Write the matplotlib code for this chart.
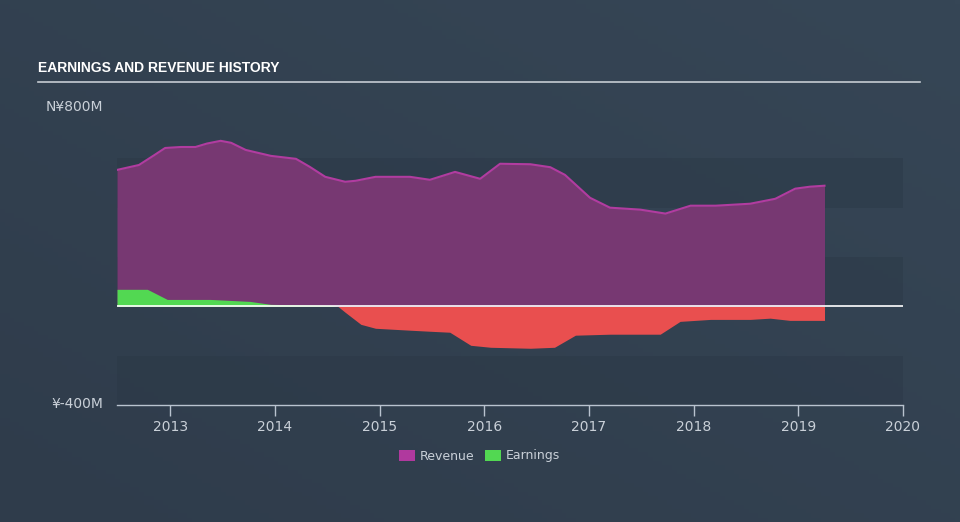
import numpy as np
import matplotlib
matplotlib.use("Agg")
from matplotlib import pyplot as plt
from matplotlib.patches import Rectangle

# revenue (millions)
rev_x = [2012.49, 2012.70, 2012.85, 2012.95, 2013.10, 2013.24, 2013.35, 2013.48, 2013.58,
         2013.72, 2013.96, 2014.20, 2014.33, 2014.48, 2014.67, 2014.77, 2014.96, 2015.29,
         2015.48, 2015.72, 2015.96, 2016.15, 2016.44, 2016.63, 2016.77, 2017.01, 2017.20,
         2017.49, 2017.73, 2017.97, 2018.21, 2018.54, 2018.78, 2018.97, 2019.11, 2019.25]
rev_y = [553, 573, 614, 642, 646, 646, 660, 671, 663,
         634, 610, 598, 566, 525, 505, 509, 525, 525,
         513, 545, 517, 578, 576, 564, 533, 440, 400,
         392, 376, 408, 408, 416, 436, 477, 485, 489]

# earnings (millions)
earn_x = [2012.49, 2012.78, 2012.97, 2013.38, 2013.76, 2013.96, 2014.53, 2014.60, 2014.67,
          2014.82, 2014.96, 2015.30, 2015.48, 2015.67, 2015.87, 2016.06, 2016.44, 2016.67,
          2016.87, 2017.20, 2017.68, 2017.87, 2018.16, 2018.54, 2018.73, 2018.92, 2019.25]
earn_y = [69, 69, 28, 28, 20, 8, 4, 0, -24,
          -73, -89, -97, -101, -105, -158, -166, -170, -166,
          -117, -113, -113, -61, -53, -53, -48, -57, -57]

years = [2013, 2014, 2015, 2016, 2017, 2018, 2019, 2020]

bg = '#33414f'
fig = plt.figure(figsize=(9.6, 5.22), dpi=100)
fig.patch.set_facecolor(bg)

# background gradient, subtle
bax = fig.add_axes([0, 0, 1, 1], zorder=-10)
gx = np.linspace(0, 1, 200)
gy = np.linspace(0, 1, 120)
GX, GY = np.meshgrid(gx, gy)
g = 0.5 * GX + 0.5 * GY
c0 = np.array([0x2f, 0x3c, 0x4b]) / 255
c1 = np.array([0x36, 0x46, 0x56]) / 255
img = c0[None, None, :] * (1 - g[..., None]) + c1[None, None, :] * g[..., None]
bax.imshow(img, aspect='auto', extent=[0, 1, 0, 1], origin='lower')
bax.axis('off')

ax = fig.add_axes([117/960, 1-405/522, (903-117)/960, (405-109)/522])
ax.set_facecolor('none')
ax.set_xlim(2012.49, 2020.0)
ax.set_ylim(-400, 800)

# alternating bands
for lo in [-400, 0, 400]:
    ax.add_patch(Rectangle((2012.49, lo), 7.51, 200, facecolor='#2b3846', alpha=0.45,
                           edgecolor='none', zorder=0))

ax.fill_between(rev_x, 0, rev_y, color='#7a3874', alpha=0.97, lw=0, zorder=2)
ax.plot(rev_x, rev_y, color='#b13ca0', lw=1.5, zorder=3)

ex = np.array(earn_x)
ey = np.array(earn_y)
ax.fill_between(ex, 0, ey, where=ey >= 0, interpolate=True, color='#52d852', lw=0, zorder=4)
ax.fill_between(ex, 0, ey, where=ey <= 0, interpolate=True, color='#e94f4f', lw=0, zorder=4)
ax.axhline(0, color='white', lw=1.2, zorder=5)

for s in ['top', 'right', 'left']:
    ax.spines[s].set_visible(False)
ax.spines['bottom'].set_color('#b9c3cf')
ax.spines['bottom'].set_linewidth(1)
ax.set_yticks([])
ax.set_xticks(years)
ax.set_xticklabels([str(y) for y in years])
ax.tick_params(axis='x', colors='#b9c3cf', length=8, width=1, labelsize=10, pad=3,
               labelcolor='#c9d0d8')

fig.text(103/960, 1-107/522, 'N¥800M', color='#c9d0d8', fontsize=10, ha='right', va='center')
fig.text(103/960, 1-404/522, '¥-400M', color='#c9d0d8', fontsize=10, ha='right', va='center')

fig.text(38/960, 1-68/522, 'EARNINGS AND REVENUE HISTORY', color='white', fontsize=10,
         fontweight='bold', fontstretch='condensed',
         family=['Liberation Sans Narrow', 'Liberation Sans', 'DejaVu Sans'], ha='left', va='center')
fig.add_artist(plt.Line2D([38/960, 920/960], [1-82/522, 1-82/522], color='#c6ccd3', lw=1.2))

# legend
fig.add_artist(Rectangle((399/960, 1-461/522), 16/960, 11/522, facecolor='#b0399e',
                         transform=fig.transFigure))
fig.text(420/960, 1-456/522, 'Revenue', color='#c9d0d8', fontsize=9, va='center')
fig.add_artist(Rectangle((485/960, 1-461/522), 16/960, 11/522, facecolor='#52d852',
                         transform=fig.transFigure))
fig.text(506/960, 1-456/522, 'Earnings', color='#c9d0d8', fontsize=9, va='center')

fig.savefig('out.png', dpi=100, facecolor=fig.get_facecolor())
